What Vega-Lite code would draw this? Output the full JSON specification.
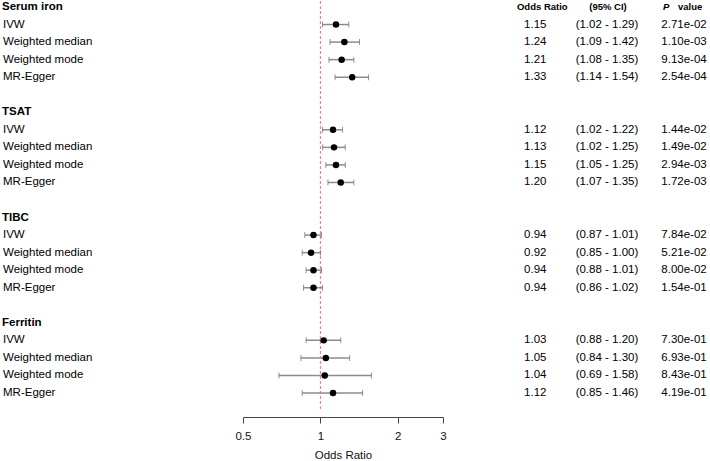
{
  "$schema": "https://vega.github.io/schema/vega-lite/v6.json",
  "padding": 0,
  "spacing": 0,
  "bounds": "flush",
  "config": {"view": {"stroke": null}, "font": "Liberation Sans", "text": {"font": "Liberation Sans"}},
  "datasets": {
    "rows": [
      {"key": "Serum iron", "label": "Serum iron", "head": true},
      {"key": "Serum iron|IVW", "label": "IVW", "head": false, "or": 1.15, "lo": 1.02, "hi": 1.29, "ci": "(1.02 - 1.29)", "p": "2.71e-02"},
      {"key": "Serum iron|Weighted median", "label": "Weighted median", "head": false, "or": 1.24, "lo": 1.09, "hi": 1.42, "ci": "(1.09 - 1.42)", "p": "1.10e-03"},
      {"key": "Serum iron|Weighted mode", "label": "Weighted mode", "head": false, "or": 1.21, "lo": 1.08, "hi": 1.35, "ci": "(1.08 - 1.35)", "p": "9.13e-04"},
      {"key": "Serum iron|MR-Egger", "label": "MR-Egger", "head": false, "or": 1.33, "lo": 1.14, "hi": 1.54, "ci": "(1.14 - 1.54)", "p": "2.54e-04"},
      {"key": "TSAT", "label": "TSAT", "head": true},
      {"key": "TSAT|IVW", "label": "IVW", "head": false, "or": 1.12, "lo": 1.02, "hi": 1.22, "ci": "(1.02 - 1.22)", "p": "1.44e-02"},
      {"key": "TSAT|Weighted median", "label": "Weighted median", "head": false, "or": 1.13, "lo": 1.02, "hi": 1.25, "ci": "(1.02 - 1.25)", "p": "1.49e-02"},
      {"key": "TSAT|Weighted mode", "label": "Weighted mode", "head": false, "or": 1.15, "lo": 1.05, "hi": 1.25, "ci": "(1.05 - 1.25)", "p": "2.94e-03"},
      {"key": "TSAT|MR-Egger", "label": "MR-Egger", "head": false, "or": 1.20, "lo": 1.07, "hi": 1.35, "ci": "(1.07 - 1.35)", "p": "1.72e-03"},
      {"key": "TIBC", "label": "TIBC", "head": true},
      {"key": "TIBC|IVW", "label": "IVW", "head": false, "or": 0.94, "lo": 0.87, "hi": 1.01, "ci": "(0.87 - 1.01)", "p": "7.84e-02"},
      {"key": "TIBC|Weighted median", "label": "Weighted median", "head": false, "or": 0.92, "lo": 0.85, "hi": 1.00, "ci": "(0.85 - 1.00)", "p": "5.21e-02"},
      {"key": "TIBC|Weighted mode", "label": "Weighted mode", "head": false, "or": 0.94, "lo": 0.88, "hi": 1.01, "ci": "(0.88 - 1.01)", "p": "8.00e-02"},
      {"key": "TIBC|MR-Egger", "label": "MR-Egger", "head": false, "or": 0.94, "lo": 0.86, "hi": 1.02, "ci": "(0.86 - 1.02)", "p": "1.54e-01"},
      {"key": "Ferritin", "label": "Ferritin", "head": true},
      {"key": "Ferritin|IVW", "label": "IVW", "head": false, "or": 1.03, "lo": 0.88, "hi": 1.20, "ci": "(0.88 - 1.20)", "p": "7.30e-01"},
      {"key": "Ferritin|Weighted median", "label": "Weighted median", "head": false, "or": 1.05, "lo": 0.84, "hi": 1.30, "ci": "(0.84 - 1.30)", "p": "6.93e-01"},
      {"key": "Ferritin|Weighted mode", "label": "Weighted mode", "head": false, "or": 1.04, "lo": 0.69, "hi": 1.58, "ci": "(0.69 - 1.58)", "p": "8.43e-01"},
      {"key": "Ferritin|MR-Egger", "label": "MR-Egger", "head": false, "or": 1.12, "lo": 0.85, "hi": 1.46, "ci": "(0.85 - 1.46)", "p": "4.19e-01"}
    ],
    "ref": [{"ref": 1}],
    "top": [{"key": "Serum iron"}]
  },
  "resolve": {"scale": {"y": "shared"}},
  "hconcat": [
    {
      "width": 243, "height": 408,
      "data": {"name": "rows"},
      "encoding": {
        "y": {"field": "key", "type": "ordinal", "axis": null,
          "scale": {"type": "point", "padding": 0.627, "align": 0.273,
            "domain": ["Serum iron", "Serum iron|IVW", "Serum iron|Weighted median", "Serum iron|Weighted mode", "Serum iron|MR-Egger", "gap1", "TSAT", "TSAT|IVW", "TSAT|Weighted median", "TSAT|Weighted mode", "TSAT|MR-Egger", "gap2", "TIBC", "TIBC|IVW", "TIBC|Weighted median", "TIBC|Weighted mode", "TIBC|MR-Egger", "gap3", "Ferritin", "Ferritin|IVW", "Ferritin|Weighted median", "Ferritin|Weighted mode", "Ferritin|MR-Egger"]}},
        "x": {"datum": 0, "type": "quantitative", "scale": {"domain": [0, 1]}, "axis": null},
        "text": {"field": "label"}
      },
      "layer": [
        {"transform": [{"filter": "datum.head"}],
         "mark": {"type": "text", "align": "left", "baseline": "middle", "dx": 2, "fontSize": 11.5, "fontWeight": "bold", "color": "#000"}},
        {"transform": [{"filter": "!datum.head"}],
         "mark": {"type": "text", "align": "left", "baseline": "middle", "dx": 3, "fontSize": 11.5, "color": "#000"}}
      ]
    },
    {
      "width": 200, "height": 408,
      "layer": [
        {
          "data": {"name": "ref"},
          "mark": {"type": "rule", "color": "#f07070", "strokeDash": [3, 2], "strokeWidth": 1},
          "encoding": {
            "x": {"field": "ref", "type": "quantitative",
              "scale": {"type": "log", "domain": [0.5, 3], "nice": false, "zero": false},
              "axis": {"values": [0.5, 1, 2, 3], "format": "~g", "grid": false, "domainColor": "#444", "tickColor": "#444", "tickSize": 6, "labelFontSize": 11.5, "labelFont": "Liberation Sans", "labelColor": "#111", "labelPadding": 7, "labelFlush": false, "labelOverlap": false, "title": "Odds Ratio", "titleFont": "Liberation Sans", "titleFontWeight": "normal", "titleFontSize": 11.5, "titleColor": "#111", "titlePadding": 8, "offset": 8}}
          }
        },
        {
          "data": {"name": "rows"},
          "transform": [{"filter": "!datum.head"}],
          "encoding": {
            "y": {"field": "key", "type": "ordinal", "axis": null,
              "scale": {"type": "point", "padding": 0.627, "align": 0.273,
                "domain": ["Serum iron", "Serum iron|IVW", "Serum iron|Weighted median", "Serum iron|Weighted mode", "Serum iron|MR-Egger", "gap1", "TSAT", "TSAT|IVW", "TSAT|Weighted median", "TSAT|Weighted mode", "TSAT|MR-Egger", "gap2", "TIBC", "TIBC|IVW", "TIBC|Weighted median", "TIBC|Weighted mode", "TIBC|MR-Egger", "gap3", "Ferritin", "Ferritin|IVW", "Ferritin|Weighted median", "Ferritin|Weighted mode", "Ferritin|MR-Egger"]}}
          },
          "layer": [
            {"mark": {"type": "rule", "color": "#8c8c8c", "strokeWidth": 1.5},
             "encoding": {"x": {"field": "lo", "type": "quantitative"}, "x2": {"field": "hi"}}},
            {"mark": {"type": "tick", "color": "#666", "size": 6, "thickness": 1, "orient": "vertical"},
             "encoding": {"x": {"field": "lo", "type": "quantitative"}}},
            {"mark": {"type": "tick", "color": "#666", "size": 6, "thickness": 1, "orient": "vertical"},
             "encoding": {"x": {"field": "hi", "type": "quantitative"}}},
            {"mark": {"type": "point", "filled": true, "color": "#000", "opacity": 1, "size": 42},
             "encoding": {"x": {"field": "or", "type": "quantitative"}}}
          ]
        }
      ]
    },
    {
      "width": 215, "height": 408,
      "encoding": {
        "y": {"field": "key", "type": "ordinal", "axis": null,
          "scale": {"type": "point", "padding": 0.627, "align": 0.273,
            "domain": ["Serum iron", "Serum iron|IVW", "Serum iron|Weighted median", "Serum iron|Weighted mode", "Serum iron|MR-Egger", "gap1", "TSAT", "TSAT|IVW", "TSAT|Weighted median", "TSAT|Weighted mode", "TSAT|MR-Egger", "gap2", "TIBC", "TIBC|IVW", "TIBC|Weighted median", "TIBC|Weighted mode", "TIBC|MR-Egger", "gap3", "Ferritin", "Ferritin|IVW", "Ferritin|Weighted median", "Ferritin|Weighted mode", "Ferritin|MR-Egger"]}}
      },
      "layer": [
        {"data": {"name": "rows"}, "transform": [{"filter": "!datum.head"}],
         "mark": {"type": "text", "align": "center", "baseline": "middle", "fontSize": 11.5, "color": "#000"},
         "encoding": {"x": {"datum": "OR", "type": "nominal", "scale": {"type": "point", "domain": ["OR", "CI"], "padding": 1.4545, "align": 0.644}, "axis": null},
                      "text": {"field": "or", "type": "quantitative", "format": ".2f"}}},
        {"data": {"name": "rows"}, "transform": [{"filter": "!datum.head"}],
         "mark": {"type": "text", "align": "center", "baseline": "middle", "fontSize": 11.5, "color": "#000"},
         "encoding": {"x": {"datum": "CI", "type": "nominal"}, "text": {"field": "ci"}}},
        {"data": {"name": "top"},
         "mark": {"type": "text", "text": "Odds Ratio", "align": "center", "baseline": "middle", "dx": 7, "fontSize": 9.5, "fontWeight": "bold", "color": "#000"},
         "encoding": {"x": {"datum": "OR", "type": "nominal"}}},
        {"data": {"name": "top"},
         "mark": {"type": "text", "text": "(95% CI)", "align": "center", "baseline": "middle", "dx": 1, "fontSize": 9.5, "fontWeight": "bold", "color": "#000"},
         "encoding": {"x": {"datum": "CI", "type": "nominal"}}}
      ]
    },
    {
      "width": 52, "height": 408,
      "encoding": {
        "y": {"field": "key", "type": "ordinal", "axis": null,
          "scale": {"type": "point", "padding": 0.627, "align": 0.273,
            "domain": ["Serum iron", "Serum iron|IVW", "Serum iron|Weighted median", "Serum iron|Weighted mode", "Serum iron|MR-Egger", "gap1", "TSAT", "TSAT|IVW", "TSAT|Weighted median", "TSAT|Weighted mode", "TSAT|MR-Egger", "gap2", "TIBC", "TIBC|IVW", "TIBC|Weighted median", "TIBC|Weighted mode", "TIBC|MR-Egger", "gap3", "Ferritin", "Ferritin|IVW", "Ferritin|Weighted median", "Ferritin|Weighted mode", "Ferritin|MR-Egger"]}}
      },
      "layer": [
        {"data": {"name": "rows"}, "transform": [{"filter": "!datum.head"}],
         "mark": {"type": "text", "align": "center", "baseline": "middle", "fontSize": 11.5, "color": "#000"},
         "encoding": {"text": {"field": "p"}}},
        {"data": {"name": "top"},
         "mark": {"type": "text", "text": "P", "align": "left", "baseline": "middle", "dx": -21, "fontSize": 9.5, "fontWeight": "bold", "fontStyle": "italic", "color": "#000"},
         "encoding": {}},
        {"data": {"name": "top"},
         "mark": {"type": "text", "text": "value", "align": "left", "baseline": "middle", "dx": -6, "fontSize": 9.5, "fontWeight": "bold", "color": "#000"},
         "encoding": {}}
      ]
    }
  ]
}
